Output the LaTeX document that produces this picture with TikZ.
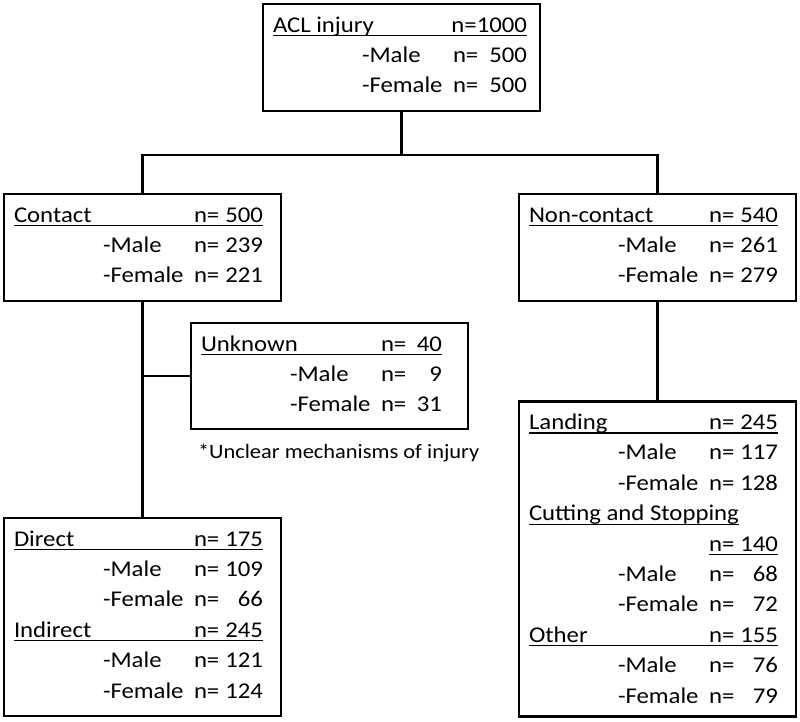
\documentclass[tikz,border=0pt]{standalone}
\usepackage{fontspec}
\setmainfont{Carlito}[FakeStretch=1.1]
\usetikzlibrary{calc}
\tikzset{
  box/.style={draw, line width=2.6pt, rectangle, inner sep=0pt, outer sep=0pt},
  link/.style={line width=2.6pt},
  txt/.style={inner sep=0pt, outer sep=0pt, font=\fontsize{22.5}{27}\selectfont},
  notetxt/.style={inner sep=0pt, outer sep=0pt, font=\fontsize{20.4}{24}\selectfont},
  uline/.style={line width=1.3pt},
}
\def\numx{259}
% header row: box, row, id, label, value
\newcommand{\HeadRow}[5]{%
  \node[txt,anchor=base west] (#3a) at ($(#1.north west)+(10,{28+30.4*#2})$) {#4};
  \node[txt,anchor=base west] (#3n) at ($(#1.north west)+(190,{28+30.4*#2})$) {n=};
  \node[txt,anchor=base east] (#3v) at ($(#1.north west)+(\numx,{28+30.4*#2})$) {#5};
  \draw[uline] ($(#3a.base west)+(0,3.5)$) -- ($(#3v.base east)+(0,3.5)$);
}
% sex row: box, row, id, text, value
\newcommand{\SexRow}[5]{%
  \node[txt,anchor=base west] (#3a) at ($(#1.north west)+(99,{28+30.4*#2})$) {#4};
  \node[txt,anchor=base west] (#3n) at ($(#1.north west)+(190,{28+30.4*#2})$) {n=};
  \node[txt,anchor=base east] (#3v) at ($(#1.north west)+(\numx,{28+30.4*#2})$) {#5};
}
\begin{document}
\begin{tikzpicture}[x=1pt,y=-1pt]
\useasboundingbox (0,0) rectangle (800,721);

% boxes
\node[box, minimum width=277pt, minimum height=107pt] (top) at (401.5,57.5) {};
\node[box, minimum width=277pt, minimum height=107pt] (contact) at (142.5,247.5) {};
\node[box, minimum width=277pt, minimum height=107pt] (noncontact) at (657.5,247.5) {};
\node[box, minimum width=277pt, minimum height=106pt] (unknown) at (329.5,376) {};
\node[box, minimum width=277pt, minimum height=198pt] (direct) at (142.5,617) {};
\node[box, minimum width=277pt, minimum height=315pt] (landing) at (657.5,559) {};

% connectors
\coordinate (split) at (401.5,155);
\draw[link] (top.south) -- (split);
\draw[link] (contact.north) -- (contact.north |- split) -- (noncontact.north |- split) -- (noncontact.north);
\draw[link] (contact.south) -- (direct.north);
\draw[link] (unknown.west) -- (unknown.west -| contact.south);
\draw[link] (noncontact.south) -- (landing.north);

% top box
\node[txt,anchor=base west] (acla) at ($(top.north west)+(10,28)$) {ACL injury};
\node[txt,anchor=base east] (aclv) at ($(top.north west)+(264,28)$) {n=1000};
\draw[uline] ($(acla.base west)+(0,3.5)$) -- ($(aclv.base east)+(0,3.5)$);
\def\numx{264}
\SexRow{top}{1}{aclm}{-Male}{500}
\SexRow{top}{2}{aclf}{-Female}{500}

% contact
\def\numx{259}
\HeadRow{contact}{0}{con}{Contact}{500}
\SexRow{contact}{1}{conm}{-Male}{239}
\SexRow{contact}{2}{conf}{-Female}{221}

% non-contact
\HeadRow{noncontact}{0}{non}{Non-contact}{540}
\SexRow{noncontact}{1}{nonm}{-Male}{261}
\SexRow{noncontact}{2}{nonf}{-Female}{279}

% unknown
\def\numx{251}
\HeadRow{unknown}{0}{unk}{Unknown}{40}
\SexRow{unknown}{1}{unkm}{-Male}{9}
\SexRow{unknown}{2}{unkf}{-Female}{31}
\node[notetxt,anchor=base west] (note) at ($(unknown.south west)+(7,29)$) {*Unclear mechanisms of injury};

% direct / indirect
\def\numx{259}
\HeadRow{direct}{0}{dir}{Direct}{175}
\SexRow{direct}{1}{dirm}{-Male}{109}
\SexRow{direct}{2}{dirf}{-Female}{66}
\HeadRow{direct}{3}{ind}{Indirect}{245}
\SexRow{direct}{4}{indm}{-Male}{121}
\SexRow{direct}{5}{indf}{-Female}{124}

% landing / cutting / other
\HeadRow{landing}{0}{lan}{Landing}{245}
\SexRow{landing}{1}{lanm}{-Male}{117}
\SexRow{landing}{2}{lanf}{-Female}{128}
\node[txt,anchor=base west] (cuta) at ($(landing.north west)+(10,{28+30.4*3})$) {Cutting and Stopping};
\draw[uline] ($(cuta.base west)+(0,3.5)$) -- ($(cuta.base east)+(0,3.5)$);
\node[txt,anchor=base west] (cutn) at ($(landing.north west)+(190,{28+30.4*4})$) {n=};
\node[txt,anchor=base east] (cutv) at ($(landing.north west)+(\numx,{28+30.4*4})$) {140};
\draw[uline] ($(cutn.base west)+(0,3.5)$) -- ($(cutv.base east)+(0,3.5)$);
\SexRow{landing}{5}{cutm}{-Male}{68}
\SexRow{landing}{6}{cutf}{-Female}{72}
\HeadRow{landing}{7}{oth}{Other}{155}
\SexRow{landing}{8}{othm}{-Male}{76}
\SexRow{landing}{9}{othf}{-Female}{79}
\end{tikzpicture}
\end{document}
